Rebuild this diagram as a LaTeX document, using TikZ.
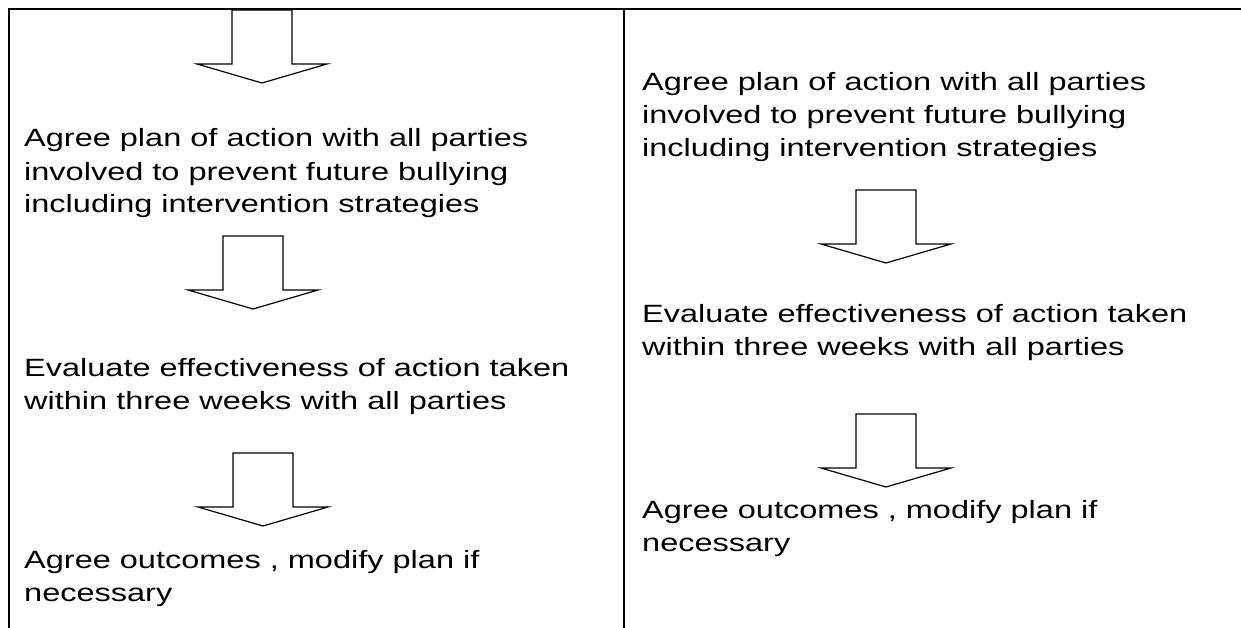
\documentclass[tikz,border=0pt]{standalone}
\usepackage{fontspec}
\setmainfont{Liberation Sans}[FakeStretch=1.3]

\tikzset{
  steptext/.style={anchor=base west, align=left, inner sep=0pt,
    font=\fontsize{25}{33}\selectfont},
  rule/.style={line width=2.2pt},
  pics/blockarrow/.style={code={
    \draw[line width=1.2pt, line join=miter]
      (-30,0) -- (-30,54) -- (-65,54) -- (0,73) -- (65,54) -- (30,54) -- (30,0) -- cycle;
  }}
}

\begin{document}
\begin{tikzpicture}[x=1pt, y=-1pt]
        \useasboundingbox (0,0) rectangle (1241,628);

        % table rules
        \coordinate (tl) at (9,9);
        \coordinate (tr) at (1241,9);
        \coordinate (bl) at (9,628);
        \coordinate (mt) at (624,9);
        \coordinate (mb) at (624,628);
        \draw[rule] (tr) -- (tl) -- (bl);
        \draw[rule] (mt) -- (mb);

        % left column (base = last line)
        \node[steptext] (lplan) at (24,213) {Agree plan of action with all parties\\involved to prevent future bullying\\including intervention strategies};
        \node[steptext] (leval) at (24,409) {Evaluate effectiveness of action taken\\within three weeks with all parties};
        \node[steptext] (lagree) at (24,601) {Agree outcomes , modify plan if\\necessary};

        \pic (larrowa) at (262,10) {blockarrow};
        \pic (larrowb) at (253,236) {blockarrow};
        \pic (larrowc) at (263,453) {blockarrow};

        % right column
        \node[steptext] (rplan) at (642,157) {Agree plan of action with all parties\\involved to prevent future bullying\\including intervention strategies};
        \node[steptext] (reval) at (642,355) {Evaluate effectiveness of action taken\\within three weeks with all parties};
        \node[steptext] (ragree) at (642,551) {Agree outcomes , modify plan if\\necessary};

        \pic (rarrowa) at (886,190) {blockarrow};
        \pic (rarrowb) at (886,414) {blockarrow};
\end{tikzpicture}
\end{document}
